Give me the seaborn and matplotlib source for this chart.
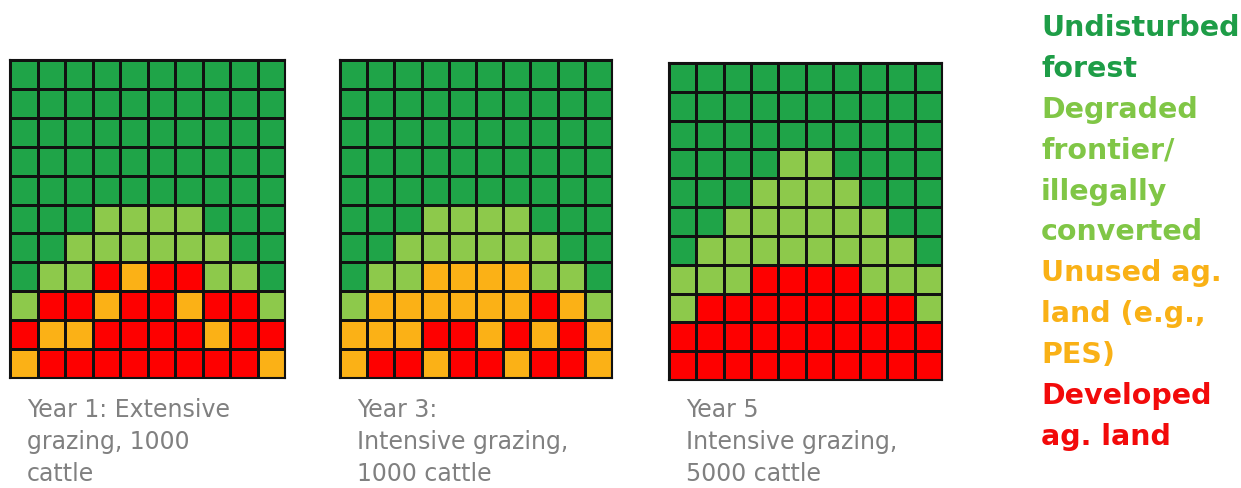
import numpy as np
import seaborn as sns
import matplotlib.pyplot as plt
from matplotlib.colors import ListedColormap

# land-use classes: 0 undisturbed forest, 1 degraded frontier, 2 unused ag. land, 3 developed ag. land
year1 = [
    "0000000000",
    "0000000000",
    "0000000000",
    "0000000000",
    "0000000000",
    "0001111000",
    "0011111100",
    "0113233110",
    "1332332331",
    "3223333233",
    "2333333332",
]
year3 = [
    "0000000000",
    "0000000000",
    "0000000000",
    "0000000000",
    "0000000000",
    "0001111000",
    "0011111100",
    "0112222110",
    "1222222321",
    "2223323232",
    "2332332332",
]
year5 = [
    "0000000000",
    "0000000000",
    "0000000000",
    "0000110000",
    "0001111000",
    "0011111100",
    "0111111110",
    "1113333111",
    "1333333331",
    "3333333333",
    "3333333333",
]
captions = [
    "Year 1: Extensive\ngrazing, 1000\ncattle",
    "Year 3:\nIntensive grazing,\n1000 cattle",
    "Year 5\nIntensive grazing,\n5000 cattle",
]
legend_lines = [
    ("Undisturbed", 0), ("forest", 0),
    ("Degraded", 1), ("frontier/", 1), ("illegally", 1), ("converted", 1),
    ("Unused ag.", 2), ("land (e.g.,", 2), ("PES)", 2),
    ("Developed", 3), ("ag. land", 3),
]

colors = ["#1FA448", "#8DC94B", "#FBB116", "#FE0000"]
text_colors = ["#1E9D47", "#80C646", "#F9B116", "#F20A0A"]

W, H = 1241, 488
fig = plt.figure(figsize=(W / 100, H / 100), dpi=100)
cmap = ListedColormap(colors)

# pixel boxes of the three grids (left, top, right, bottom)
boxes = [(10, 60, 285, 378), (340, 60, 612, 378), (669, 63, 942, 380)]
for grid, box, cap in zip([year1, year3, year5], boxes, captions):
    data = np.array([[int(c) for c in row] for row in grid])
    l, t, r, b = box
    ax = fig.add_axes([l / W, 1 - b / H, (r - l) / W, (b - t) / H])
    sns.heatmap(data, ax=ax, cmap=cmap, vmin=-0.5, vmax=3.5, cbar=False,
                linewidths=1.8, linecolor="#111111", xticklabels=False, yticklabels=False)
    for s in ax.spines.values():
        s.set_visible(True)
        s.set_color("#111111")
        s.set_linewidth(1.5)
    fig.text((l + 17) / W, 1 - 398 / H, cap, ha="left", va="top", fontsize=17,
             color="#808080", linespacing=1.42, family="DejaVu Sans")

for i, (txt, k) in enumerate(legend_lines):
    y = 28 + 40.9 * i
    fig.text(1041 / W, 1 - y / H, txt, ha="left", va="center", fontsize=20.5,
             fontweight="bold", color=text_colors[k], family="DejaVu Sans")

fig.savefig("out.png", dpi=100, facecolor="white")
